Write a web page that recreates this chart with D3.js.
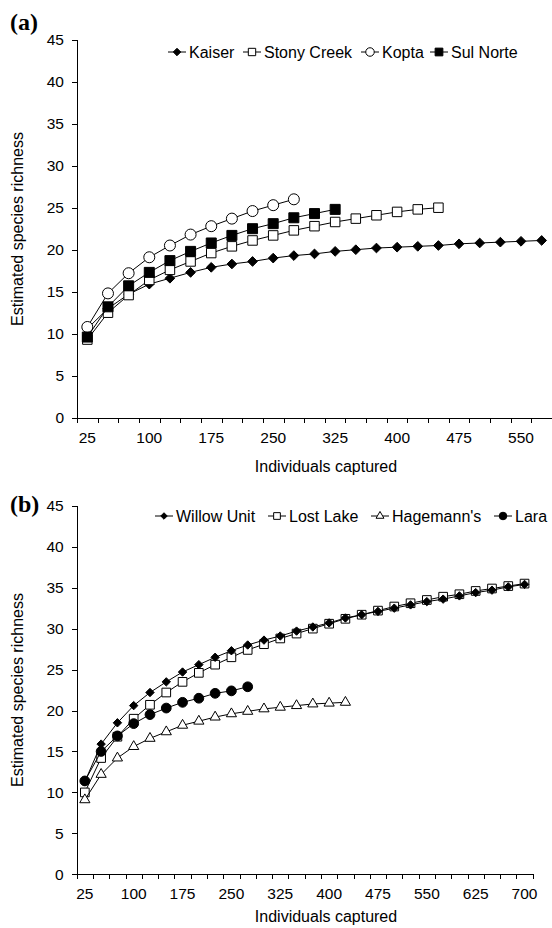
<!DOCTYPE html>
<html lang="en">
<head>
<meta charset="UTF-8">
<title>Species accumulation curves</title>
<style>
  body { margin: 0; background: #fff; }
  svg { display: block; font-family: "Liberation Sans", Arial, sans-serif; }
  .axis path, .axis line { stroke: #000; stroke-width: 1; shape-rendering: crispEdges; }
  .axis text { font-size: 15.5px; fill: #000; font-family: "Liberation Sans", Arial, sans-serif; }
  .line { fill: none; stroke: #000; stroke-width: 1; }
  .title { font-size: 16px; fill: #000; }
  .legend text { font-size: 16px; fill: #000; }
  .panel-label { font-family: "Liberation Serif", "Times New Roman", serif; font-weight: bold; font-size: 24px; }
</style>
</head>
<body>
<svg id="chart" width="552" height="928"></svg>

<script src="https://cdn.jsdelivr.net/npm/d3@7"></script>
<script>
  "use strict";

  // panel (a)
  var catsA = [25,50,75,100,125,150,175,200,225,250,275,300,325,350,375,400,425,450,475,500,525,550,575],
      xLabelsA = [25,100,175,250,325,400,475,550],
      kaiser    = [10.6,13.0,14.7,15.9,16.6,17.3,17.9,18.3,18.6,19.0,19.3,19.5,19.8,20.0,20.2,20.3,20.4,20.5,20.7,20.8,20.9,21.0,21.1],
      stony     = [9.3,12.5,14.6,16.4,17.6,18.6,19.6,20.4,21.1,21.7,22.3,22.8,23.3,23.7,24.1,24.5,24.8,25.0],
      kopta     = [10.8,14.8,17.2,19.1,20.5,21.8,22.8,23.7,24.6,25.3,26.0],
      sulNorte  = [9.6,13.2,15.7,17.3,18.7,19.8,20.8,21.7,22.5,23.1,23.8,24.3,24.8];

  // panel (b)
  var catsB = [25,50,75,100,125,150,175,200,225,250,275,300,325,350,375,400,425,450,475,500,525,550,575,600,625,650,675,700],
      xLabelsB = [25,100,175,250,325,400,475,550,625,700],
      willow    = [11.3,15.9,18.5,20.6,22.2,23.5,24.7,25.6,26.5,27.3,28.0,28.6,29.1,29.7,30.2,30.7,31.3,31.7,32.1,32.5,32.9,33.3,33.6,34.0,34.4,34.7,35.1,35.4],
      lostLake  = [10.0,14.2,16.8,19.0,20.7,22.2,23.5,24.6,25.6,26.5,27.4,28.1,28.8,29.4,30.0,30.6,31.2,31.7,32.2,32.7,33.1,33.5,33.9,34.2,34.6,34.9,35.2,35.5],
      hagemann  = [9.1,12.2,14.2,15.6,16.6,17.4,18.2,18.7,19.2,19.6,19.9,20.2,20.4,20.6,20.8,20.9,21.0],
      lara      = [11.4,15.0,16.9,18.4,19.5,20.3,21.0,21.5,22.1,22.4,22.9];

  var yTicks = [0,5,10,15,20,25,30,35,40,45];

  var diamond = d3.symbolDiamond2 || d3.symbolDiamond;

  var svg = d3.select("#chart");

  function drawPanel(p){
    var g = svg.append("g");

    var x = d3.scaleBand().domain(p.cats).range([p.left, p.right]).padding(0);
    var xi = d3.scaleLinear().domain([0, p.cats.length]).range([p.left, p.right]);
    var y = d3.scaleLinear().domain([0,45]).range([p.bottom, p.top]);

    // y axis
    g.append("g").attr("class","axis")
      .attr("transform","translate(" + p.left + ",0)")
      .call(d3.axisLeft(y).tickValues(yTicks).tickSize(5).tickSizeOuter(0).tickPadding(8));

    // x axis: ticks between categories
    g.append("g").attr("class","axis")
      .attr("transform","translate(0," + p.bottom + ")")
      .call(d3.axisBottom(xi).tickValues(d3.range(p.cats.length + 1)).tickFormat("").tickSize(5).tickSizeOuter(0));

    // x labels every 3rd category
    var lab = g.append("g").attr("class","axis")
      .attr("transform","translate(0," + p.bottom + ")")
      .call(d3.axisBottom(x).tickValues(p.xLabels).tickSize(0).tickPadding(14));
    lab.select(".domain").remove();

    var line = d3.line()
      .x(function(d,i){ return x(p.cats[i]) + x.bandwidth()/2; })
      .y(function(d){ return y(d); });

    p.order.forEach(function(k){
      var s = p.series[k];
      g.append("path").attr("class","line").attr("d", line(s.values));
      g.selectAll(null)
        .data(s.values)
        .enter()
        .append("path")
        .attr("transform", function(d,i){
          return "translate(" + (x(p.cats[i]) + x.bandwidth()/2) + "," + y(d) + ")";
        })
        .attr("d", d3.symbol().type(s.type).size(s.size))
        .attr("fill", s.filled ? "#000" : "#fff")
        .attr("stroke", "#000")
        .attr("stroke-width", 1);
    });

    // legend
    var lg = g.append("g").attr("class","legend");
    p.series.forEach(function(s, i){
      var lx = p.legendX[i];
      lg.append("line")
        .attr("x1", lx - 21).attr("x2", lx - 3)
        .attr("y1", p.legendY).attr("y2", p.legendY)
        .attr("stroke","#000").attr("stroke-width",1);
      lg.append("path")
        .attr("transform","translate(" + (lx - 12) + "," + p.legendY + ")")
        .attr("d", d3.symbol().type(s.type).size(s.size * 0.6))
        .attr("fill", s.filled ? "#000" : "#fff")
        .attr("stroke","#000");
      lg.append("text")
        .attr("x", lx).attr("y", p.legendY)
        .attr("dy","0.35em")
        .text(s.name);
    });

    // titles
    g.append("text").attr("class","title")
      .attr("x", 326).attr("y", p.xTitleY)
      .attr("text-anchor","middle")
      .text("Individuals captured");
    g.append("text").attr("class","title")
      .attr("transform","translate(23," + p.yTitleY + ") rotate(-90)")
      .attr("text-anchor","middle")
      .text("Estimated species richness");

    g.append("text").attr("class","panel-label")
      .attr("x", 10).attr("y", p.labelY)
      .text(p.label);
  }

  drawPanel({
    label: "(a)", labelY: 30,
    cats: catsA, xLabels: xLabelsA,
    left: 77, right: 552, top: 39.7, bottom: 417.7,
    xTitleY: 472, yTitleY: 229,
    legendY: 52, legendX: [189, 264, 382, 451],
    series: [
      {name: "Kaiser", values: kaiser, type: diamond, size: 60, filled: true},
      {name: "Stony Creek", values: stony, type: d3.symbolSquare, size: 90, filled: false},
      {name: "Kopta", values: kopta, type: d3.symbolCircle, size: 95, filled: false},
      {name: "Sul Norte", values: sulNorte, type: d3.symbolSquare, size: 100, filled: true}
    ],
    order: [0,1,2,3]
  });

  drawPanel({
    label: "(b)", labelY: 512,
    cats: catsB, xLabels: xLabelsB,
    left: 76.7, right: 532.7, top: 505.8, bottom: 874.3,
    xTitleY: 922, yTitleY: 690,
    legendY: 516, legendX: [176, 289, 392, 515],
    series: [
      {name: "Willow Unit", values: willow, type: diamond, size: 45, filled: true},
      {name: "Lost Lake", values: lostLake, type: d3.symbolSquare, size: 75, filled: false},
      {name: "Hagemann's", values: hagemann, type: d3.symbolTriangle, size: 45, filled: false},
      {name: "Lara", values: lara, type: d3.symbolCircle, size: 75, filled: true}
    ],
    order: [1,2,0,3]
  });
</script>
</body>
</html>
